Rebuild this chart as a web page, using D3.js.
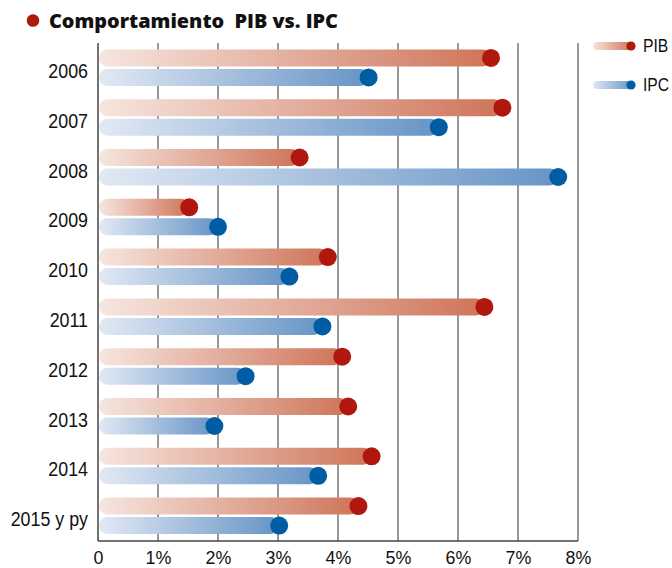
<!DOCTYPE html>
<html><head><meta charset="utf-8">
<script src="https://cdn.jsdelivr.net/npm/d3@7"></script>
<style>
html,body{margin:0;padding:0;background:#fff;}
svg{display:block;}
</style></head>
<body>
<script>
const years = ["2006","2007","2008","2009","2010","2011","2012","2013","2014","2015 y py"];
const pib = [6.55, 6.74, 3.36, 1.52, 3.83, 6.44, 4.07, 4.17, 4.56, 4.34];
const ipc = [4.51, 5.68, 7.67, 2.00, 3.19, 3.74, 2.46, 1.94, 3.67, 3.02];
const xTicks = [0,1,2,3,4,5,6,7,8];
const xTickLabels = ["0","1%","2%","3%","4%","5%","6%","7%","8%"];
const seriesNames = ["PIB","IPC"];
const title = "Comportamiento  PIB vs. IPC";

const W = 672, H = 568;
const svg = d3.select("body").append("svg").attr("width", W).attr("height", H);
const lab = "'Liberation Sans',Arial,sans-serif";
const sx = 0.87;

const x = d3.scaleLinear().domain([0, 8]).range([98, 578]);
const y = d3.scaleBand().domain(years).range([43, 541]);

const defs = svg.append("defs");
function grad(id, c0, c1) {
  const g = defs.append("linearGradient").attr("id", id).attr("x1","0%").attr("x2","100%").attr("y1","0%").attr("y2","0%");
  g.append("stop").attr("offset","0%").attr("stop-color", c0);
  g.append("stop").attr("offset","100%").attr("stop-color", c1);
}
grad("gPib", "#f6e6df", "#cf7459");
grad("gIpc", "#e2e9f4", "#6694c6");
const series = [
  {name: seriesNames[0], vals: pib, off: -10, grad: "url(#gPib)", dot: "#b0170f"},
  {name: seriesNames[1], vals: ipc, off: 9.5, grad: "url(#gIpc)", dot: "#005da3"}
];

// title
svg.append("circle").attr("cx", 33).attr("cy", 20.5).attr("r", 6.3).attr("fill", "#b0170f");
svg.append("text").attr("x", 49).attr("y", 28).text(title)
  .style("white-space", "pre").attr("xml:space", "preserve")
  .attr("font-family", "'Open Sans',sans-serif").attr("font-weight", 800).attr("font-size", 20).attr("fill", "#111")
  .attr("textLength", 289).attr("lengthAdjust", "spacingAndGlyphs");

// gridlines
const grid = svg.append("g");
grid.selectAll("line").data(xTicks.slice(1)).join("line")
  .attr("x1", d => x(d)).attr("x2", d => x(d)).attr("y1", 43).attr("y2", 541)
  .attr("stroke", "#6e6e6e").attr("stroke-width", 1.4);

// bars
const barH = 17;
series.forEach(s => {
  const g = svg.append("g");
  g.selectAll("rect").data(years).join("rect")
    .attr("x", x(0) + 1)
    .attr("y", d => y(d) + y.bandwidth()/2 + s.off - barH/2)
    .attr("width", (d,i) => x(s.vals[i]) - x(0) - 1)
    .attr("height", barH).attr("rx", barH/2).attr("ry", barH/2)
    .attr("fill", s.grad);
  g.selectAll("circle").data(years).join("circle")
    .attr("cx", (d,i) => x(s.vals[i]))
    .attr("cy", d => y(d) + y.bandwidth()/2 + s.off)
    .attr("r", 9).attr("fill", s.dot);
});

// axes lines
svg.append("line").attr("x1", x(0)).attr("x2", x(0)).attr("y1", 43).attr("y2", 541)
  .attr("stroke", "#444").attr("stroke-width", 1.5);
svg.append("line").attr("x1", x(0)).attr("x2", x(8)).attr("y1", 541).attr("y2", 541)
  .attr("stroke", "#444").attr("stroke-width", 1.5);

// x labels
const xAxis = d3.axisBottom(x).tickValues(xTicks).tickFormat((d,i) => xTickLabels[i]).tickSize(0).tickPadding(0);
const xa = svg.append("g").attr("transform", "translate(0,541)").call(xAxis);
xa.select(".domain").remove();
xa.selectAll("text").attr("dy", null).attr("y", 23.5)
  .attr("transform", "scale(0.94,1)")
  .attr("font-family", lab).attr("font-size", 19).attr("fill", "#111");

// y labels
const yAxis = d3.axisLeft(y).tickSize(0).tickPadding(0);
const ya = svg.append("g").attr("transform", "translate(88,3)").call(yAxis);
ya.select(".domain").remove();
ya.selectAll("text").attr("dy", "0.35em")
  .attr("transform", `scale(${sx},1)`)
  .attr("font-family", lab).attr("font-size", 20.5).attr("fill", "#111");

// legend
const lg = svg.append("g");
series.forEach((s, i) => {
  const cy = 46 + i * 39;
  lg.append("rect").attr("x", 593).attr("y", cy - 4).attr("width", 39).attr("height", 8)
    .attr("rx", 4).attr("fill", s.grad);
  lg.append("circle").attr("cx", 631).attr("cy", cy).attr("r", 4.6).attr("fill", s.dot);
  lg.append("text").attr("x", 643 / sx).attr("y", cy).attr("dy", "0.36em").text(s.name)
    .attr("transform", `scale(${sx},1)`)
    .attr("font-family", lab).attr("font-size", 18).attr("fill", "#111");
});
</script>
</body></html>
